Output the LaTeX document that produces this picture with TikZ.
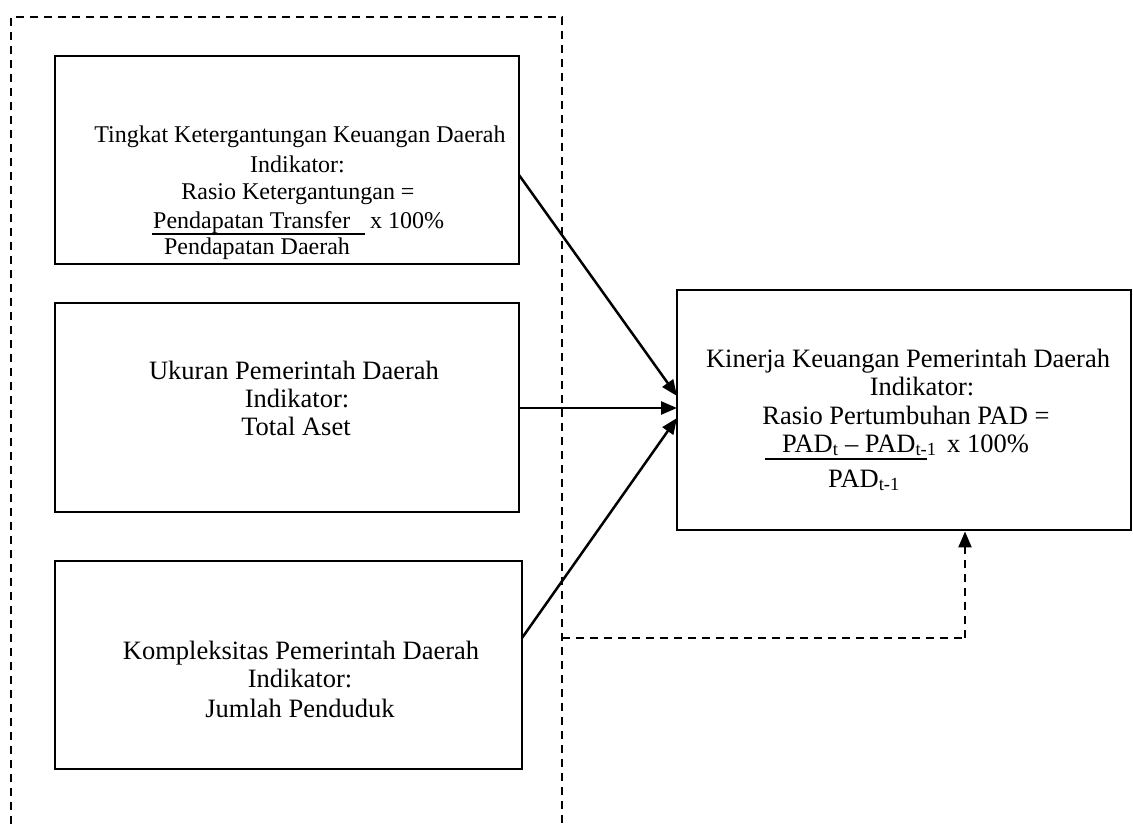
\documentclass[tikz,border=0pt]{standalone}
\usepackage{fontspec}
\setmainfont{Liberation Serif}
\usetikzlibrary{arrows.meta}
\tikzset{
  box/.style={draw, line width=2.9pt, rectangle, inner sep=0pt},
  txa/.style={anchor=base, inner sep=0pt, font=\fontsize{24}{28}\selectfont},
  txb/.style={anchor=base, inner sep=0pt, font=\fontsize{26.5}{30}\selectfont},
  txal/.style={txa, anchor=base west},
  txbl/.style={txb, anchor=base west},
  conn/.style={line width=2.5pt, -{Triangle[length=16pt,width=13pt]}},
  dashline/.style={line width=2.2pt, dash pattern=on 8pt off 6pt},
  fracrule/.style={line width=1.7pt}
}
\begin{document}
\begin{tikzpicture}[x=1pt,y=-1pt]
\useasboundingbox (0,0) rectangle (1133,824);
% boxes
\node[box, minimum width=464pt, minimum height=208pt] (b1) at (287,160) {};
\node[box, minimum width=464pt, minimum height=209pt] (b2) at (287,407.5) {};
\node[box, minimum width=467pt, minimum height=208pt] (b3) at (288.5,665) {};
\node[box, minimum width=454pt, minimum height=240pt] (r) at (904,410) {};
% box 1 text
\node[txa] (t1a) at (300,143) {Tingkat Ketergantungan Keuangan Daerah};
\node[txa] (t1b) at (297.5,172) {Indikator:};
\node[txa] (t1c) at (298,200) {Rasio Ketergantungan =};
\node[txal] (t1d) at (153,228) {Pendapatan Transfer};
\node[txal] (t1e) at (370,228) {x 100\%};
\draw[fracrule] (152,234) -- (365,234);
\node[txa] (t1f) at (257,254) {Pendapatan Daerah};
% box 2 text
\node[txb] (t2a) at (294,379) {Ukuran Pemerintah Daerah};
\node[txb] (t2b) at (297,407) {Indikator:};
\node[txb] (t2c) at (296,435) {Total Aset};
% box 3 text
\node[txb] (t3a) at (301,659) {Kompleksitas Pemerintah Daerah};
\node[txb] (t3b) at (300,687) {Indikator:};
\node[txb] (t3c) at (300,717) {Jumlah Penduduk};
% right box text
\node[txb] (tra) at (908,367) {Kinerja Keuangan Pemerintah Daerah};
\node[txb] (trb) at (922,395) {Indikator:};
\node[txb] (trc) at (906,424) {Rasio Pertumbuhan PAD =};
\node[txbl] (trd) at (782,452) {PAD\textsubscript{t} – PAD\textsubscript{t-1}};
\node[txbl] (tre) at (947,452) {x 100\%};
\draw[fracrule] (765,459) -- (927,459);
\node[txbl] (trf) at (828,487) {PAD\textsubscript{t-1}};
% dashed frame
\coordinate (fbl) at (11,824);
\coordinate (ftl) at (11,17);
\coordinate (ftr) at (562,17);
\coordinate (fbr) at (562,824);
\draw[dashline] (fbl) -- (ftl) -- (ftr) -- (fbr);
% connectors
\coordinate (s1) at (519,175);
\coordinate (e1) at (677,396);
\coordinate (s2) at (519,408);
\coordinate (e2) at (677,408);
\coordinate (s3) at (522,638);
\coordinate (e3) at (677,418);
\draw[conn] (s1) -- (e1);
\draw[conn] (s2) -- (e2);
\draw[conn] (s3) -- (e3);
\coordinate (ds) at (562,638);
\coordinate (dc) at (965,638);
\draw[dashline] (ds) -- (dc);
\draw[dashline, -{Triangle[length=16pt,width=13pt]}] (dc) -- (dc |- r.south);
\end{tikzpicture}
\end{document}
